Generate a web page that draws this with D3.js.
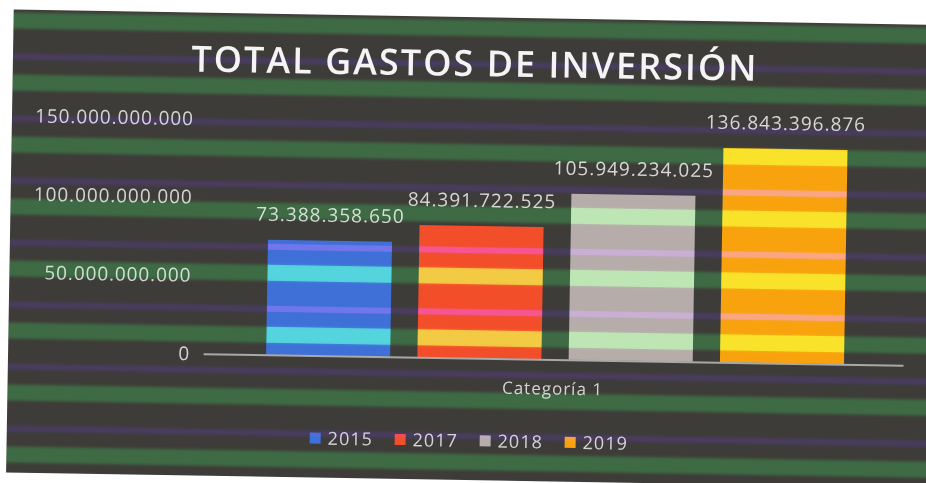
<!DOCTYPE html>
<html>
<head>
<meta charset="utf-8">
<script src="https://cdn.jsdelivr.net/npm/d3@7"></script>
<style>
  body { margin: 0; background: #fff; }
  svg { display: block; }
  text { font-family: "Open Sans", "Noto Sans", sans-serif; }
</style>
</head>
<body>
<div id="chart"></div>
<script>
const title = "TOTAL GASTOS DE INVERSIÓN";
const category = "Categoría 1";
const years = ["2015", "2017", "2018", "2019"];
const values = [73388358650, 84391722525, 105949234025, 136843396876];
const yTicks = [0, 50e9, 100e9, 150e9];
const colors = ["#3f70d8", "#f24e2a", "#b6acaa", "#f8a20e"];

const width = 926;
const height = 483;

// numbers are written the spanish way: 73.388.358.650
const fmt = d3
  .formatLocale({ decimal: ",", thousands: ".", grouping: [3], currency: ["$", ""] })
  .format(",d");

const svg = d3
  .select("#chart")
  .append("svg")
  .attr("width", width)
  .attr("height", height);

const defs = svg.append("defs");

// scan stripes: green band then purple band, every 62px
function stripes(id, green, purple) {
  const p = defs
    .append("pattern")
    .attr("id", id)
    .attr("patternUnits", "userSpaceOnUse")
    .attr("x", 0)
    .attr("y", 20)
    .attr("width", 40)
    .attr("height", 62);
  p.append("rect").attr("y", 0).attr("width", 40).attr("height", 16).attr("fill", green);
  p.append("rect").attr("y", 41).attr("width", 40).attr("height", 6).attr("fill", purple);
}
stripes("scanSoft", "#003c0c", "#0e0532");
stripes("scanBars", "#1c9a12", "#3a0a60");

defs
  .append("filter")
  .attr("id", "soft")
  .append("feGaussianBlur")
  .attr("stdDeviation", "0 1.6");

// the photo is tilted a bit
const g = svg.append("g").attr("transform", "rotate(0.95 463 240)");

g.append("rect")
  .attr("x", 10)
  .attr("y", 17)
  .attr("width", 940)
  .attr("height", 463)
  .attr("fill", "#3e3c39");

const x = d3.scaleBand().domain(years).range([268, 846]).paddingInner(0.18);
const y = d3.scaleLinear().domain([0, 150e9]).range([358, 123]);
const xCat = d3.scaleBand().domain([category]).range([205, 905]);

g.append("text")
  .attr("x", 472)
  .attr("y", 76)
  .attr("text-anchor", "middle")
  .attr("fill", "#f4f4f4")
  .attr("font-size", 36)
  .attr("font-weight", 600)
  .attr("letter-spacing", 2)
  .text(title);

// y axis, labels only
const yAxis = g
  .append("g")
  .attr("transform", "translate(192,0)")
  .call(d3.axisLeft(y).tickValues(yTicks).tickFormat(fmt).tickSize(0).tickPadding(0));
yAxis.select(".domain").remove();
yAxis
  .selectAll("text")
  .attr("fill", "#d4d4d4")
  .attr("font-size", 19)
  .attr("letter-spacing", 0.9)
  .attr("font-family", null);

g.append("g")
  .selectAll("rect")
  .data(years)
  .join("rect")
  .attr("x", (d) => x(d))
  .attr("y", (d, i) => y(values[i]))
  .attr("width", x.bandwidth())
  .attr("height", (d, i) => y(0) - y(values[i]))
  .attr("fill", (d, i) => colors[i]);

defs
  .append("clipPath")
  .attr("id", "barClip")
  .selectAll("rect")
  .data(years)
  .join("rect")
  .attr("x", (d) => x(d))
  .attr("y", (d, i) => y(values[i]))
  .attr("width", x.bandwidth())
  .attr("height", (d, i) => y(0) - y(values[i]));

// x axis: baseline + category name
const xAxis = g
  .append("g")
  .attr("transform", `translate(0,${y(0)})`)
  .call(d3.axisBottom(xCat).tickSize(0).tickSizeOuter(0).tickPadding(23));
xAxis.select(".domain").attr("stroke", "#a9a9a9").attr("stroke-width", 2);
xAxis
  .selectAll("text")
  .attr("fill", "#d4d4d4")
  .attr("font-size", 17)
  .attr("letter-spacing", 1)
  .attr("font-family", null);

g.append("g")
  .selectAll("text")
  .data(years)
  .join("text")
  .attr("x", (d) => x(d) + x.bandwidth() / 2)
  .attr("y", (d, i) => y(values[i]) - 19)
  .attr("text-anchor", "middle")
  .attr("fill", "#d6d6d6")
  .attr("font-size", 19)
  .attr("letter-spacing", 1)
  .text((d, i) => fmt(values[i]));

// legend
const legend = g
  .append("g")
  .selectAll("g")
  .data(years)
  .join("g")
  .attr("transform", (d, i) => `translate(${313 + i * 85},441)`);
legend
  .append("rect")
  .attr("x", 0)
  .attr("y", -6)
  .attr("width", 11)
  .attr("height", 11)
  .attr("fill", (d, i) => colors[i]);
legend
  .append("text")
  .attr("x", 18)
  .attr("y", 6)
  .attr("fill", "#d4d4d4")
  .attr("font-size", 18)
  .attr("letter-spacing", 1)
  .text((d) => d);

// scan artefacts on top
g.append("rect")
  .attr("x", 10)
  .attr("y", 17)
  .attr("width", 940)
  .attr("height", 463)
  .attr("fill", "url(#scanSoft)")
  .attr("filter", "url(#soft)")
  .style("mix-blend-mode", "screen");
g.append("rect")
  .attr("x", 10)
  .attr("y", 17)
  .attr("width", 940)
  .attr("height", 463)
  .attr("clip-path", "url(#barClip)")
  .attr("fill", "url(#scanBars)")
  .style("mix-blend-mode", "screen");
</script>
</body>
</html>
